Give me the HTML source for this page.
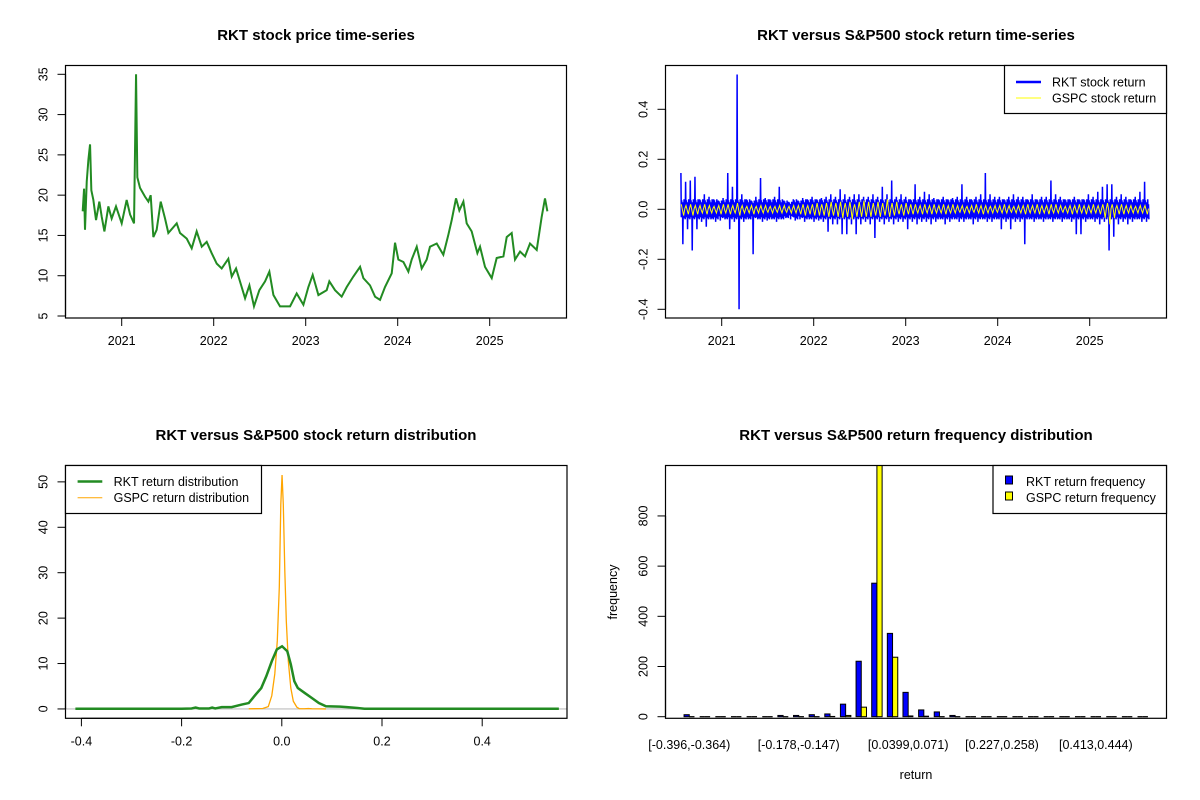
<!DOCTYPE html>
<html><head><meta charset="utf-8"><style>
html,body{margin:0;padding:0;background:#fff;}
svg{display:block;font-family:"Liberation Sans",Arial,sans-serif;}
</style></head><body>
<svg id="fig" width="1200" height="800" viewBox="0 0 1200 800" xmlns="http://www.w3.org/2000/svg">
<rect width="1200" height="800" fill="#fff"/>
<g font-size="15" font-weight="bold" text-anchor="middle" fill="#000">
<text x="316" y="40">RKT stock price time-series</text>
<text x="916" y="40">RKT versus S&amp;P500 stock return time-series</text>
<text x="316" y="440">RKT versus S&amp;P500 stock return distribution</text>
<text x="916" y="440">RKT versus S&amp;P500 return frequency distribution</text>
</g>
<g id="tl"></g>
<g id="tr"></g>
<g id="bl"></g>
<g id="br"></g>
</svg>
<script>
// ---------- price chart data ----------
const priceYears = [2020.576,2020.591,2020.601,2020.620,2020.638,2020.656,2020.670,2020.692,2020.721,2020.757,2020.783,2020.812,2020.855,2020.891,2020.938,2021.000,2021.054,2021.091,2021.134,2021.156,2021.170,2021.199,2021.254,2021.290,2021.315,2021.344,2021.380,2021.424,2021.471,2021.507,2021.598,2021.634,2021.707,2021.761,2021.815,2021.870,2021.924,2021.978,2022.033,2022.087,2022.159,2022.196,2022.243,2022.304,2022.341,2022.388,2022.438,2022.496,2022.558,2022.605,2022.649,2022.721,2022.830,2022.902,2022.975,2023.029,2023.076,2023.138,2023.228,2023.257,2023.319,2023.391,2023.446,2023.518,2023.591,2023.627,2023.699,2023.754,2023.808,2023.862,2023.935,2023.971,2024.007,2024.062,2024.116,2024.152,2024.207,2024.261,2024.315,2024.351,2024.424,2024.496,2024.551,2024.587,2024.634,2024.670,2024.714,2024.750,2024.804,2024.866,2024.895,2024.949,2025.022,2025.076,2025.149,2025.185,2025.239,2025.275,2025.330,2025.384,2025.438,2025.511,2025.565,2025.601,2025.627];
const priceValues = [18,20.8,15.7,21.7,24.4,26.3,20.6,19.4,16.9,19.2,17.3,15.5,18.6,17.1,18.6,16.5,19.4,17.6,16.5,35,22.2,20.9,19.8,19.2,20,14.8,15.7,19.2,17.1,15.3,16.5,15.3,14.6,13.4,15.5,13.6,14.2,12.8,11.5,10.9,12.1,9.9,10.9,8.6,7.2,8.8,6.2,8.2,9.3,10.5,7.6,6.2,6.2,7.8,6.4,8.6,10.1,7.6,8.2,9.3,8.2,7.4,8.6,9.9,11.1,9.7,8.8,7.4,7,8.6,10.3,14.1,12,11.7,10.5,12,13.6,10.9,12,13.6,14,12.6,15.1,16.9,19.6,18.1,19.2,16.5,15.5,12.8,13.6,11.1,9.7,12.2,12.4,14.8,15.3,12,13,12.4,14,13.2,17.3,19.6,18];
const priceTicks = [5,10,15,20,25,30,35];
const yearTicks = [2021,2022,2023,2024,2025];
// ---------- return chart data (per period high / low) ----------
const rktHigh = [0.145,0.11,0.115,0.13,0.04,0.06,0.05,0.04,0.035,0.045,0.145,0.09,0.539,0.06,0.04,0.035,0.05,0.125,0.045,0.04,0.05,0.09,0.035,0.03,0.04,0.035,0.045,0.04,0.05,0.04,0.045,0.05,0.06,0.05,0.08,0.06,0.05,0.06,0.06,0.05,0.05,0.06,0.05,0.09,0.06,0.115,0.05,0.06,0.05,0.04,0.1,0.05,0.07,0.06,0.045,0.04,0.05,0.04,0.045,0.05,0.1,0.05,0.04,0.05,0.06,0.145,0.06,0.05,0.05,0.04,0.05,0.06,0.05,0.05,0.04,0.06,0.04,0.05,0.05,0.115,0.06,0.05,0.04,0.04,0.05,0.04,0.04,0.06,0.05,0.07,0.09,0.1,0.1,0.05,0.06,0.05,0.04,0.05,0.07,0.11];
const rktLow = [-0.14,-0.08,-0.165,-0.08,-0.05,-0.07,-0.04,-0.05,-0.045,-0.04,-0.08,-0.05,-0.40,-0.05,-0.04,-0.18,-0.04,-0.05,-0.045,-0.04,-0.05,-0.04,-0.035,-0.04,-0.045,-0.04,-0.05,-0.04,-0.05,-0.045,-0.05,-0.09,-0.06,-0.06,-0.1,-0.1,-0.06,-0.1,-0.06,-0.05,-0.06,-0.115,-0.05,-0.06,-0.05,-0.06,-0.05,-0.05,-0.08,-0.05,-0.06,-0.05,-0.05,-0.06,-0.05,-0.04,-0.06,-0.05,-0.04,-0.05,-0.05,-0.04,-0.06,-0.05,-0.04,-0.05,-0.05,-0.04,-0.08,-0.05,-0.08,-0.05,-0.05,-0.14,-0.04,-0.05,-0.04,-0.05,-0.04,-0.05,-0.04,-0.05,-0.04,-0.05,-0.1,-0.1,-0.05,-0.04,-0.05,-0.06,-0.05,-0.165,-0.11,-0.06,-0.05,-0.06,-0.05,-0.04,-0.05,-0.05];
const gspcHigh = [0.02,0.015,0.02,0.015,0.015,0.02,0.015,0.012,0.015,0.02,0.02,0.015,0.025,0.015,0.012,0.015,0.012,0.015,0.015,0.012,0.012,0.015,0.015,0.012,0.015,0.015,0.02,0.015,0.02,0.025,0.02,0.025,0.03,0.025,0.03,0.025,0.03,0.02,0.03,0.035,0.03,0.025,0.03,0.025,0.04,0.025,0.03,0.02,0.025,0.02,0.02,0.015,0.02,0.015,0.02,0.015,0.02,0.015,0.02,0.015,0.015,0.012,0.015,0.02,0.015,0.015,0.012,0.015,0.015,0.02,0.015,0.012,0.015,0.015,0.02,0.015,0.02,0.015,0.015,0.02,0.02,0.015,0.012,0.015,0.015,0.02,0.015,0.015,0.02,0.015,0.02,0.025,0.02,0.015,0.02,0.015,0.015,0.012,0.015,0.015];
const gspcLow = [-0.025,-0.02,-0.025,-0.02,-0.015,-0.02,-0.015,-0.015,-0.02,-0.015,-0.02,-0.015,-0.025,-0.015,-0.015,-0.02,-0.015,-0.015,-0.012,-0.015,-0.012,-0.015,-0.012,-0.015,-0.015,-0.02,-0.025,-0.02,-0.025,-0.025,-0.025,-0.03,-0.025,-0.03,-0.035,-0.03,-0.04,-0.03,-0.03,-0.03,-0.03,-0.025,-0.03,-0.025,-0.03,-0.025,-0.02,-0.025,-0.02,-0.02,-0.015,-0.02,-0.015,-0.02,-0.015,-0.015,-0.02,-0.015,-0.015,-0.012,-0.015,-0.015,-0.012,-0.015,-0.02,-0.015,-0.015,-0.012,-0.015,-0.015,-0.012,-0.015,-0.015,-0.02,-0.015,-0.015,-0.02,-0.015,-0.02,-0.015,-0.015,-0.012,-0.015,-0.02,-0.015,-0.015,-0.02,-0.015,-0.015,-0.02,-0.035,-0.06,-0.035,-0.02,-0.02,-0.015,-0.015,-0.015,-0.015,-0.02];
const returnStart = 2020.58, returnEnd = 2025.62;
const returnTicks = [-0.4,-0.2,0,0.2,0.4];
// ---------- density chart data ----------
const rktDensX = [-0.412,-0.2,-0.18,-0.172,-0.165,-0.145,-0.139,-0.133,-0.12,-0.1,-0.08,-0.066,-0.052,-0.041,-0.031,-0.020,-0.010,0.0005,0.011,0.018,0.025,0.032,0.046,0.060,0.074,0.088,0.116,0.13,0.151,0.165,0.2,0.553];
const rktDensY = [0.05,0.05,0.1,0.3,0.1,0.1,0.3,0.1,0.4,0.4,0.97,1.3,3.2,4.6,7.2,10.5,13.1,13.8,12.7,9.8,6.1,4.6,3.5,2.4,1.3,0.6,0.5,0.4,0.2,0.05,0.05,0.05];
const gspcDensX = [-0.066,-0.038,-0.027,-0.020,-0.014,-0.009,-0.005,-0.002,0.0005,0.003,0.006,0.009,0.013,0.018,0.023,0.030,0.035,0.045,0.053,0.06,0.088];
const gspcDensY = [0.03,0.1,0.5,2.9,7.7,15,26.8,45,51.5,45,30.4,19.3,10.5,4.6,1.7,0.4,0.05,0.05,0.1,0.05,0];
const densXTicks = [-0.4,-0.2,0,0.2,0.4];
const densYTicks = [0,10,20,30,40,50];
// ---------- histogram data ----------
const binLabels = ["[-0.396,-0.364)","","","","","","","[-0.178,-0.147)","","","","","","","[0.0399,0.071)","","","","","","[0.227,0.258)","","","","","","[0.413,0.444)","","",""];
const rktFreq = [8,0,0,0,0,0,5,5,8,11,50,221,532,332,97,27,19,5,0,0,0,0,0,0,0,0,0,0,0,0];
const gspcFreq = [0,0,0,0,0,0,0,0,0,1,5,38,1001,237,3,2,0,0,0,0,0,0,0,0,0,0,0,0,0,0];
const freqTicks = [0,200,400,600,800];

const NS = "http://www.w3.org/2000/svg";
function el(tag, attrs, parent){const e=document.createElementNS(NS,tag);for(const k in attrs)e.setAttribute(k,attrs[k]);parent.appendChild(e);return e;}
function lin(d0,d1,r0,r1){return v=>r0+(v-d0)*(r1-r0)/(d1-d0);}
function fmt(v){return (Math.abs(v)<1e-9)?"0.0":v.toFixed(1);}

function frame(g,x0,y0,x1,y1){
  const r=el("rect",{x:x0,y:y0,width:x1-x0,height:y1-y0,fill:"none",stroke:"#000","stroke-width":1.2},g);
  
  
}
function xAxis(g,ticks,sx,yb,labels){
  const a=el("line",{x1:sx(ticks[0]),x2:sx(ticks[ticks.length-1]),y1:yb,y2:yb,stroke:"#000","stroke-width":1.2},g);
  
  
  ticks.forEach((t,i)=>{
    const l=el("line",{x1:sx(t),x2:sx(t),y1:yb,y2:yb+8,stroke:"#000","stroke-width":1},g);
    
    
    const tx=el("text",{x:sx(t),y:yb+27,"font-size":12.5,"text-anchor":"middle"},g);
    tx.textContent=labels[i];
    
    
  });
}
function yAxis(g,ticks,sy,xl,labels){
  const a=el("line",{x1:xl,x2:xl,y1:sy(ticks[0]),y2:sy(ticks[ticks.length-1]),stroke:"#000","stroke-width":1.2},g);
  
  
  ticks.forEach((t,i)=>{
    const y=sy(t);
    const l=el("line",{x1:xl-8,x2:xl,y1:y,y2:y,stroke:"#000","stroke-width":1},g);
    
    
    const bx=xl-18;
    const tx=el("text",{x:bx,y:y,"font-size":12.5,"text-anchor":"middle",transform:`rotate(-90 ${bx} ${y})`},g);
    tx.textContent=labels[i];
    
    
  });
}
function polyline(g,xs,ys,sx,sy,color,w,name){
  const p=el("polyline",{points:xs.map((x,i)=>sx(x).toFixed(2)+","+sy(ys[i]).toFixed(2)).join(" "),fill:"none",stroke:color,"stroke-width":w,"stroke-linejoin":"miter"},g);
  
  
  return p;
}
function denseSeries(hi,lo,typ,pattern){
  const n=hi.length, step=(returnEnd-returnStart)/(n-1);
  const xs=[],ys=[];
  for(let i=0;i<n;i++){
    const t=returnStart+i*step;
    const m=pattern.length;
    for(let k=0;k<m;k++){
      xs.push(t-step/2+step*(k+0.5)/m);
      const p=pattern[k];
      ys.push(p==="H"?hi[i]:p==="L"?lo[i]:p*Math.min(typ,hi[i],-lo[i]));
    }
  }
  return [xs,ys];
}

// ===== Top-left: price =====
(function(){
  const g=document.getElementById("tl");
  const sx=lin(2021,2025,121.7,489.7), sy=lin(5,35,316,74.3);
  polyline(g,priceYears,priceValues,sx,sy,"#228B22",2,"rkt-price-line");
  frame(g,65.5,65.5,566.5,318);
  xAxis(g,yearTicks,sx,318,yearTicks.map(String));
  yAxis(g,priceTicks,sy,65.5,priceTicks.map(String));
})();

// ===== Top-right: returns =====
(function(){
  const g=document.getElementById("tr");
  const sx=lin(2021,2025,721.7,1089.7), sy=lin(0,0.4,209.3,109.3);
  const [rx,ry]=denseSeries(rktHigh,rktLow,0.04,["H",-0.8,0.9,-0.5,0.7,"L",0.6,-0.9,1,-0.7,0.5,-1]);
  polyline(g,rx,ry,sx,sy,"#0000FF",1.5,"rkt-return-line");
  const [gx,gy]=denseSeries(gspcHigh,gspcLow,0.01,["H",-0.3,"L",0.3]);
  polyline(g,gx,gy,sx,sy,"#FFFF00",1,"gspc-return-line");
  frame(g,665.5,65.5,1166.5,318);
  xAxis(g,yearTicks,sx,318,yearTicks.map(String));
  yAxis(g,returnTicks,sy,665.5,returnTicks.map(fmt));
  const lg=el("g",{},g);
  
  
  el("rect",{x:1004.5,y:65.5,width:162,height:48,fill:"#fff",stroke:"#000","stroke-width":1.2},lg);
  const l1=el("line",{x1:1016,x2:1041,y1:82,y2:82,stroke:"#0000FF","stroke-width":2.5},lg);
  
  
  const l2=el("line",{x1:1016,x2:1041,y1:98,y2:98,stroke:"#FFFF00","stroke-width":1},lg);
  
  
  const t1=el("text",{x:1052,y:86.5,"font-size":12.5},lg); t1.textContent="RKT stock return";
  
  
  const t2=el("text",{x:1052,y:102.5,"font-size":12.5},lg); t2.textContent="GSPC stock return";
  
  
})();

// ===== Bottom-left: density =====
(function(){
  const g=document.getElementById("bl");
  const ymax=Math.max(...rktDensY,...gspcDensY);
  const pad=ymax*0.04;
  const sx=lin(0,0.4,281.8,482.2), sy=lin(-pad,ymax+pad,718.3,465.7);
  const ab=el("line",{x1:66,x2:567,y1:sy(0),y2:sy(0),stroke:"#BEBEBE","stroke-width":1.2},g);
  
  
  polyline(g,gspcDensX,gspcDensY,sx,sy,"#FFA500",1.3,"gspc-density-line");
  polyline(g,rktDensX,rktDensY,sx,sy,"#228B22",2.5,"rkt-density-line");
  frame(g,65.5,465.5,567,718.3);
  xAxis(g,densXTicks,sx,718.3,densXTicks.map(fmt));
  yAxis(g,densYTicks,sy,65.5,densYTicks.map(String));
  const lg=el("g",{},g);
  
  
  el("rect",{x:65.5,y:465.5,width:196,height:48,fill:"#fff",stroke:"#000","stroke-width":1.2},lg);
  const l1=el("line",{x1:77.6,x2:102.3,y1:481.5,y2:481.5,stroke:"#228B22","stroke-width":2.5},lg);
  
  
  const l2=el("line",{x1:77.6,x2:102.3,y1:497.7,y2:497.7,stroke:"#FFA500","stroke-width":1},lg);
  
  
  const t1=el("text",{x:113.6,y:486,"font-size":12.5},lg); t1.textContent="RKT return distribution";
  
  
  const t2=el("text",{x:113.6,y:502,"font-size":12.5},lg); t2.textContent="GSPC return distribution";
  
  
})();

// ===== Bottom-right: histogram =====
(function(){
  const g=document.getElementById("br");
  const n=rktFreq.length;
  const umin=1, umax=3*n, upad=(umax-umin)*0.04;
  const sx=lin(umin-upad,umax+upad,665.5,1166.5);
  const ymax=Math.max(...rktFreq,...gspcFreq);
  const sy=lin(0,ymax,716.7,465.5);
  const clip=el("clipPath",{id:"hclip"},g);
  el("rect",{x:665.5,y:465.5,width:501,height:253},clip);
  const bars=el("g",{"clip-path":"url(#hclip)"},g);
  function bar(u0,v,color){
    const x0=sx(u0), x1=sx(u0+1), h=sy(0)-sy(v);
    let b;
    if(h<1){
      b=el("line",{x1:x0,x2:x1,y1:sy(0)-h/2,y2:sy(0)-h/2,stroke:"#000","stroke-width":Math.max(1.2,h+1)},bars);
    } else {
      b=el("rect",{x:x0,y:sy(v),width:x1-x0,height:h,fill:color,stroke:"#000","stroke-width":1},bars);
    }
    return b;
  }
  for(let i=0;i<n;i++){
    const b1=bar(3*i+1,rktFreq[i],"#0000FF");
    
    
    const b2=bar(3*i+2,gspcFreq[i],"#FFFF00");
    
    
    if(binLabels[i]){
      const tx=el("text",{x:sx(3*i+2),y:749,"font-size":12.5,"text-anchor":"middle"},g);
      tx.textContent=binLabels[i];
      
      
    }
  }
  frame(g,665.5,465.5,1166.5,718.3);
  yAxis(g,freqTicks,sy,665.5,freqTicks.map(String));
  const xt=el("text",{x:916,y:779,"font-size":12.5,"text-anchor":"middle"},g); xt.textContent="return";
  
  
  const yt=el("text",{x:617,y:592,"font-size":12.5,"text-anchor":"middle",transform:"rotate(-90 617 592)"},g); yt.textContent="frequency";
  
  
  const lg=el("g",{},g);
  
  
  el("rect",{x:993,y:465.5,width:173.5,height:48,fill:"#fff",stroke:"#000","stroke-width":1.2},lg);
  const s1=el("rect",{x:1005.5,y:476,width:7,height:8,fill:"#0000FF",stroke:"#000","stroke-width":1},lg);
  
  
  const s2=el("rect",{x:1005.5,y:492,width:7,height:8,fill:"#FFFF00",stroke:"#000","stroke-width":1},lg);
  
  
  const t1=el("text",{x:1026,y:486,"font-size":12.5},lg); t1.textContent="RKT return frequency";
  
  
  const t2=el("text",{x:1026,y:502,"font-size":12.5},lg); t2.textContent="GSPC return frequency";
  
  
})();
</script>
</body></html>
